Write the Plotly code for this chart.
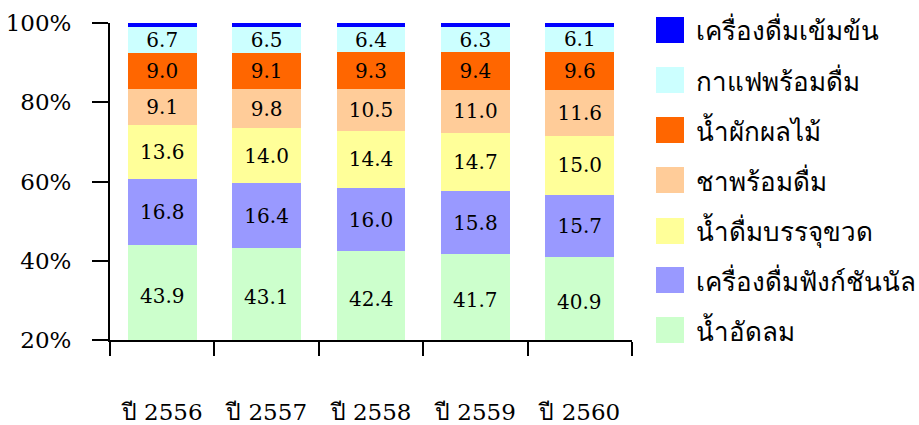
import plotly.graph_objects as go

# Market share of beverage types (percent), Thai years 2556-2560
years = ["ปี 2556", "ปี 2557", "ปี 2558", "ปี 2559", "ปี 2560"]

soft_drinks = [43.9, 43.1, 42.4, 41.7, 40.9]        # น้ำอัดลม
functional = [16.8, 16.4, 16.0, 15.8, 15.7]         # เครื่องดื่มฟังก์ชันนัล
bottled_water = [13.6, 14.0, 14.4, 14.7, 15.0]      # น้ำดื่มบรรจุขวด
rtd_tea = [9.1, 9.8, 10.5, 11.0, 11.6]              # ชาพร้อมดื่ม
juice = [9.0, 9.1, 9.3, 9.4, 9.6]                   # น้ำผักผลไม้
rtd_coffee = [6.7, 6.5, 6.4, 6.3, 6.1]              # กาแฟพร้อมดื่ม
concentrate = [0.9, 1.1, 1.0, 1.1, 1.1]             # เครื่องดื่มเข้มข้น

y_ticks = [20, 40, 60, 80, 100]
y_min = 20

series = [
    ("น้ำอัดลม", soft_drinks, "#CCFFCC"),
    ("เครื่องดื่มฟังก์ชันนัล", functional, "#9999FF"),
    ("น้ำดื่มบรรจุขวด", bottled_water, "#FFFF99"),
    ("ชาพร้อมดื่ม", rtd_tea, "#FFCC99"),
    ("น้ำผักผลไม้", juice, "#FF6600"),
    ("กาแฟพร้อมดื่ม", rtd_coffee, "#CCFFFF"),
    ("เครื่องดื่มเข้มข้น", concentrate, "#0000FF"),
]

FONT = "DejaVu Serif, serif"
W, H = 919, 425
L, R, T, B = 110, 287, 23, 85

fig = go.Figure()
for i, (name, vals, color) in enumerate(series):
    # the bottom segment is cut by the axis floor, so its label is placed
    # separately in the visible part; the thin top segment has no label
    inside = 0 < i < len(series) - 1
    fig.add_trace(go.Bar(
        x=years, y=vals, name=name,
        marker=dict(color=color, line=dict(width=0)),
        text=[f"{v:.1f}" for v in vals] if inside else None,
        textposition="inside" if inside else "none",
        insidetextanchor="middle",
        textangle=0,
        textfont=dict(family=FONT, size=20, color="black"),
        constraintext="none",
        showlegend=False,
    ))

for yr, v in zip(years, soft_drinks):
    fig.add_annotation(x=yr, y=(y_min + v) / 2 - 0.8, text=f"{v:.1f}", showarrow=False,
                       font=dict(family=FONT, size=20, color="black"))

# Legend drawn as squares + labels, top item = top of the stack
plot_w = W - L - R
plot_h = H - T - B
def px_x(px):
    return (px - L) / plot_w
def px_y(py):
    return (H - B - py) / plot_h

legend_centers = [30, 80, 130, 180, 231, 280, 330]
for (name, _, color), cy in zip(reversed(series), legend_centers):
    fig.add_shape(type="rect", xref="paper", yref="paper",
                  x0=px_x(656), x1=px_x(684), y0=px_y(cy + 13), y1=px_y(cy - 13),
                  fillcolor=color, line=dict(width=0))
    fig.add_annotation(xref="paper", yref="paper", x=px_x(694), y=px_y(cy),
                       text=name, showarrow=False, xanchor="left", yanchor="middle",
                       font=dict(family=FONT, size=26, color="black"))

fig.update_layout(
    barmode="stack",
    bargap=0.34,
    width=W, height=H,
    margin=dict(l=L, r=R, t=T, b=B, autoexpand=False),
    plot_bgcolor="white", paper_bgcolor="white",
    font=dict(family=FONT, color="black"),
    xaxis=dict(
        showline=True, linecolor="black", linewidth=2,
        ticks="outside", tickson="boundaries", ticklen=14, tickwidth=2, tickcolor="black",
        tickfont=dict(size=23), ticklabelstandoff=50,
        showgrid=False, zeroline=False, automargin=False,
    ),
    yaxis=dict(
        range=[y_min, 100], tickmode="array", tickvals=y_ticks,
        ticktext=[f"{t}%" for t in y_ticks],
        showline=True, linecolor="black", linewidth=2,
        ticks="outside", ticklen=16, tickwidth=2, tickcolor="black",
        tickfont=dict(size=23), ticklabelstandoff=16,
        showgrid=False, zeroline=False, automargin=False,
    ),
)

fig.write_html("out.html")
